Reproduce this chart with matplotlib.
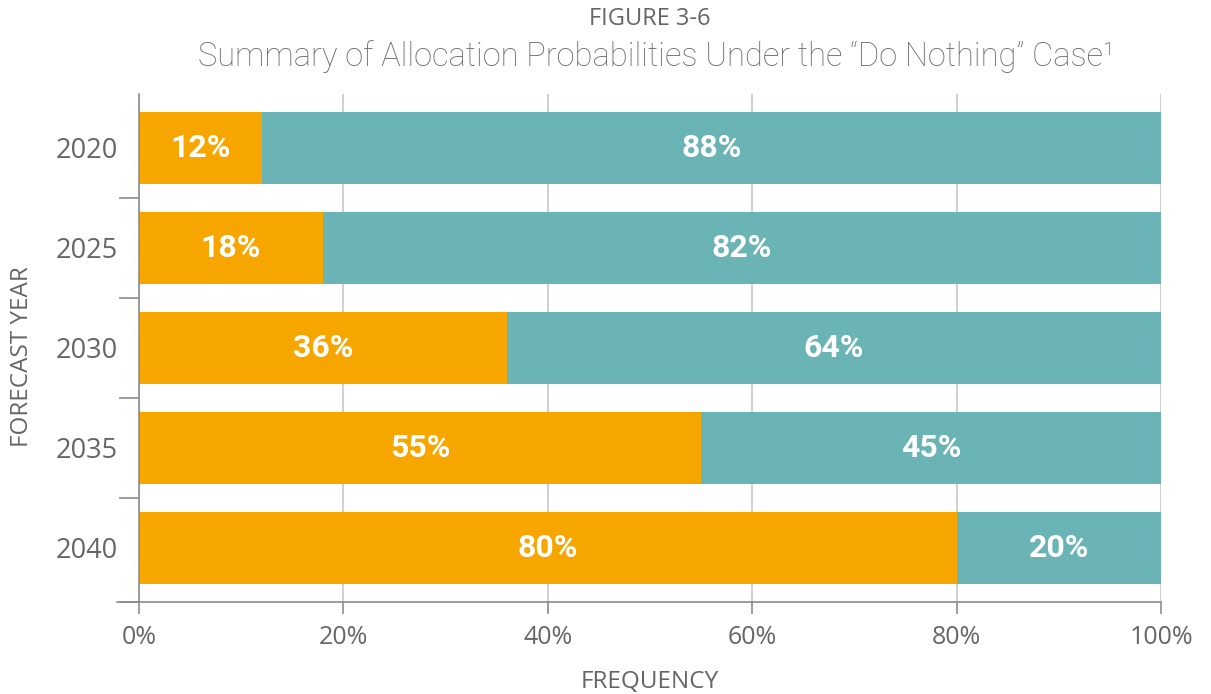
import matplotlib
matplotlib.use("Agg")
import matplotlib.pyplot as plt
from matplotlib.ticker import FixedLocator

# data
years = ["2020", "2025", "2030", "2035", "2040"]
orange_pct = [12, 18, 36, 55, 80]
teal_pct = [88, 82, 64, 45, 20]
x_ticks = [0, 20, 40, 60, 80, 100]

ORANGE = "#F7A600"
TEAL = "#6AB4B6"
GREY_TXT = "#666666"
SPINE = "#8c8c8c"
GRID = "#c8c8c8"

fig = plt.figure(figsize=(12.11, 6.94), dpi=100)
ax = fig.add_axes([139 / 1211, 1 - 602 / 694, (1161 - 139) / 1211, (602 - 94) / 694])

ypos = list(range(len(years)))
ax.barh(ypos, orange_pct, height=0.72, color=ORANGE, zorder=2)
ax.barh(ypos, teal_pct, left=orange_pct, height=0.72, color=TEAL, zorder=2)

for i in ypos:
    o, t = orange_pct[i], teal_pct[i]
    ax.text(o / 2, i, f"{o}%", ha="center", va="center", color="white",
            fontsize=23, fontweight="bold", family="Roboto", zorder=3)
    ax.text(o + t / 2, i, f"{t}%", ha="center", va="center", color="white",
            fontsize=23, fontweight="bold", family="Roboto", zorder=3)

ax.set_xlim(0, 100)
ax.set_ylim(4.54, -0.54)

ax.set_xticks(x_ticks)
ax.set_xticklabels([f"{v}%" for v in x_ticks])
ax.set_yticks(ypos)
ax.set_yticklabels(years)
ax.yaxis.set_minor_locator(FixedLocator([0.5, 1.5, 2.5, 3.5, 4.54]))

ax.tick_params(axis="y", which="major", length=0, pad=15.5, labelsize=19.5, labelcolor=GREY_TXT)
ax.tick_params(axis="y", which="minor", length=14.4, width=1.2, color=SPINE)
ax.tick_params(axis="x", which="major", length=8.6, width=1.2, color=SPINE,
               pad=8, labelsize=18, labelcolor=GREY_TXT)
for lab in ax.get_xticklabels() + ax.get_yticklabels():
    lab.set_family("Open Sans")

ax.grid(axis="x", color=GRID, linewidth=1.2, zorder=0)
for s in ["top", "right"]:
    ax.spines[s].set_visible(False)
for s in ["left", "bottom"]:
    ax.spines[s].set_color(SPINE)
    ax.spines[s].set_linewidth(1.2)

# bottom spine runs a bit left of the y axis
ax.plot([-0.0215, 0], [0, 0], transform=ax.transAxes, color=SPINE,
        linewidth=1.2, clip_on=False)

fig.text(650 / 1211, 1 - 682 / 694, "FREQUENCY", ha="center", va="center",
         fontsize=17.5, color=GREY_TXT, family="Open Sans")
fig.text(22 / 1211, 1 - 357 / 694, "FORECAST YEAR", ha="center", va="center",
         rotation=90, fontsize=17.5, color=GREY_TXT, family="Open Sans")

fig.text(650 / 1211, 1 - 19 / 694, "FIGURE 3-6", ha="center", va="center",
         fontsize=17, color=GREY_TXT, family="Open Sans")
fig.text(656 / 1211, 1 - 57 / 694, "Summary of Allocation Probabilities Under the \u201cDo Nothing\u201d Case\u00b9",
         ha="center", va="center", fontsize=23.5, color="#6a6a6a", family="Roboto",
         fontweight="light")

fig.savefig("out.png", dpi=100)
